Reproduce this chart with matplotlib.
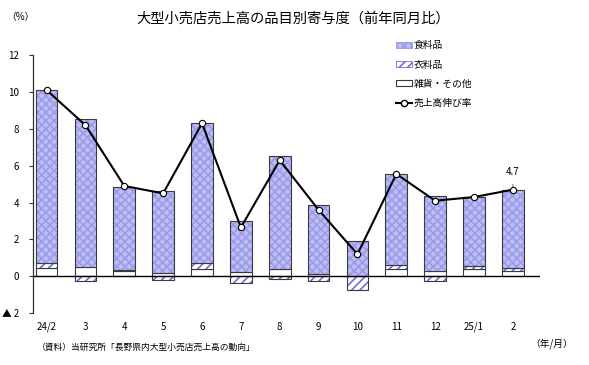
import numpy as np
import matplotlib.pyplot as plt
from matplotlib.patches import Patch
from matplotlib.lines import Line2D

plt.rcParams['font.family'] = ['Noto Sans CJK JP', 'DejaVu Sans']
plt.rcParams['hatch.linewidth'] = 1.2

# data (%)
months = ['24/2', '3', '4', '5', '6', '7', '8', '9', '10', '11', '12', '25/1', '2']
other = [0.45, 0.50, 0.28, 0.20, 0.38, 0.22, 0.42, 0.10, 0.00, 0.42, 0.30, 0.42, 0.31]
clothing = [0.25, -0.25, 0.05, -0.18, 0.32, -0.36, -0.17, -0.26, -0.72, 0.22, -0.27, 0.16, 0.16]
food = [9.40, 8.03, 4.52, 4.42, 7.60, 2.78, 6.08, 3.76, 1.92, 4.90, 4.08, 3.73, 4.23]
growth = [10.1, 8.2, 4.9, 4.5, 8.3, 2.65, 6.3, 3.6, 1.2, 5.55, 4.1, 4.3, 4.7]

food_col = '#bdbdf5'
food_hatch = '#9a9ae8'
hatch_col = '#6e6edc'
edge_col = '#3a3a3a'

fig = plt.figure(figsize=(5.89, 3.65), dpi=100)
ax = fig.add_axes([0.056, 0.142, 0.861, 0.707])

x = np.arange(len(months))
w = 0.56
other = np.array(other)
clothing = np.array(clothing)
food = np.array(food)

# positive and negative stacking
pos_base = np.zeros(len(x))
neg_base = np.zeros(len(x))

def stack(vals, **kw):
    bottoms = np.where(vals >= 0, pos_base, neg_base)
    ax.bar(x, vals, w, bottom=bottoms, **kw)
    ax.bar(x, vals, w, bottom=bottoms, fill=False, edgecolor=edge_col, linewidth=0.8)
    pos_base[:] += np.where(vals >= 0, vals, 0)
    neg_base[:] += np.where(vals < 0, vals, 0)

stack(other, color='white', linewidth=0)
stack(clothing, facecolor='white', edgecolor=hatch_col, hatch='////', linewidth=0)
stack(food, facecolor=food_col, edgecolor=food_hatch, hatch='xxxx', linewidth=0)

ax.axhline(0, color='black', lw=1.0, zorder=3)
ax.plot(x, growth, color='black', lw=1.5, marker='o', ms=4.5,
        markerfacecolor='white', markeredgecolor='black', markeredgewidth=0.8, zorder=4)

ax.annotate('4.7', xy=(x[-1], growth[-1] + 0.15), xytext=(x[-1], growth[-1] + 0.95),
            ha='center', va='center', fontsize=7,
            arrowprops=dict(arrowstyle='-', color='#555555', lw=0.6, shrinkA=3, shrinkB=0))

ax.set_xlim(-0.35, len(x) - 0.3)
ax.set_ylim(-2, 12)
ax.set_yticks(range(-2, 13, 2))
ax.set_yticklabels(['▲ 2'] + [str(v) for v in range(0, 13, 2)], fontsize=7)
ax.set_xticks(x)
ax.set_xticklabels(months, fontsize=7)
ax.tick_params(axis='x', length=0, pad=6)
ax.tick_params(axis='y', length=3, width=0.8, color='#333333', pad=7)
for s in ['top', 'right', 'bottom']:
    ax.spines[s].set_visible(False)
ax.spines['left'].set_color('#333333')
ax.spines['left'].set_linewidth(0.9)

handles = [
    Patch(facecolor=food_col, edgecolor=food_hatch, hatch='xxxx', linewidth=0.6),
    Patch(facecolor='white', edgecolor=hatch_col, hatch='////', linewidth=0.6),
    Patch(facecolor='white', edgecolor=edge_col, linewidth=0.8),
    Line2D([], [], color='black', lw=1.5, marker='o', ms=4.5,
           markerfacecolor='white', markeredgecolor='black'),
]
labels = ['食料品', '衣料品', '雑貨・その他', '売上高伸び率']
leg = ax.legend(handles, labels, loc='upper left', bbox_to_anchor=(0.705, 1.08),
                frameon=False, fontsize=7, handlelength=1.6, handleheight=0.6,
                handletextpad=0.2, labelspacing=0.95, borderaxespad=0.2)

fig.text(0.497, 0.95, '大型小売店売上高の品目別寄与度（前年同月比）', ha='center', va='center', fontsize=10.3)
fig.text(0.01, 0.953, '（%）', ha='left', va='center', fontsize=7)
fig.text(0.062, 0.048, '（資料）当研究所「長野県内大型小売店売上高の動向」', ha='left', va='center', fontsize=6.3)
fig.text(0.90, 0.06, '（年/月）', ha='left', va='center', fontsize=7)

fig.savefig('out.png', dpi=100)
